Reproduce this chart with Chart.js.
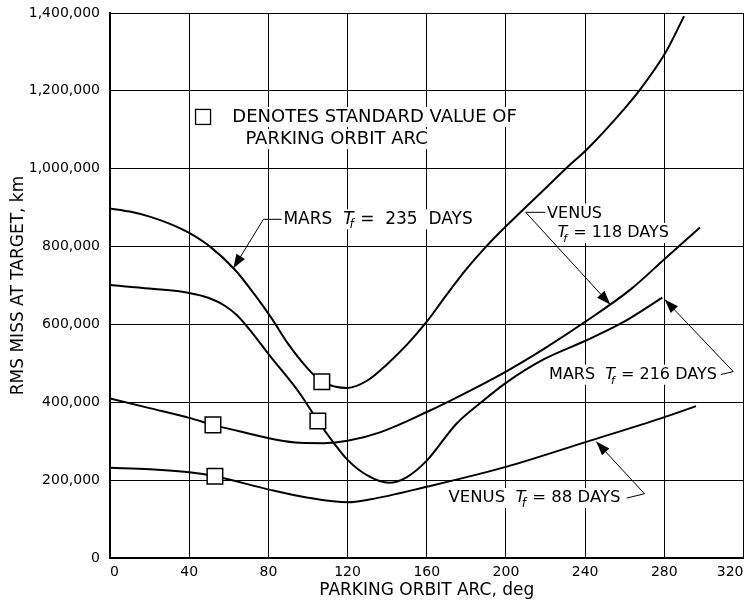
<!DOCTYPE html>
<html>
<head>
<meta charset="utf-8">
<script src="https://cdn.jsdelivr.net/npm/chart.js@4.4.0/dist/chart.umd.min.js"></script>
<style>
  html, body { margin: 0; padding: 0; background: #fff; overflow: hidden; }
</style>
</head>
<body>
<!-- a little wider than the window: the x-axis keeps half of its last label as right padding -->
<canvas id="missChart" width="756" height="605"></canvas>
<script>
    // tick values
    const arcTicks = [0, 40, 80, 120, 160, 200, 240, 280, 320];
    const missTicks = [0, 200000, 400000, 600000, 800000, 1000000, 1200000, 1400000];

    // Mars, Tf = 235 days
    const arcMars235 = [0, 10, 20, 30, 40, 51, 63, 73, 82, 90, 100, 107, 114, 120, 130, 140, 150, 160, 170, 180, 190, 200, 220, 231, 241, 260, 268, 281, 290];
    const missMars235 = [898000, 890000, 877000, 859000, 835000, 798000, 741000, 677000, 613000, 550000, 486000, 453000, 440000, 437000, 456000, 498000, 548000, 607000, 676000, 742000, 800000, 852000, 950000, 1004000, 1050000, 1155000, 1205000, 1302000, 1392000];

    // Mars, Tf = 216 days
    const arcMars216 = [0, 20, 40, 50, 58, 64, 70, 81, 96, 105, 113, 120, 130, 141, 150, 160, 175, 188, 200, 219, 241, 259, 279];
    const missMars216 = [701000, 692000, 681000, 668000, 648000, 624000, 590000, 518000, 422000, 352000, 296000, 252000, 212000, 193000, 208000, 250000, 345000, 402000, 450000, 510000, 560000, 605000, 669000];

    // Venus, Tf = 118 days
    const arcVenus118 = [0, 20, 40, 52, 70, 84, 96, 108, 120, 136, 160, 180, 200, 220, 241, 263, 281, 298];
    const missVenus118 = [410000, 385000, 360000, 342000, 320000, 304000, 296000, 295000, 301000, 322000, 375000, 425000, 479000, 540000, 610000, 690000, 772000, 849000];

    // Venus, Tf = 88 days
    const arcVenus88 = [0, 20, 40, 53, 81, 100, 120, 131, 160, 200, 241, 279, 296];
    const missVenus88 = [232000, 228000, 220000, 210000, 175000, 155000, 143000, 150000, 183000, 234000, 299000, 360000, 390000];

    // standard parking orbit arc values (squares)
    const stdArc = [107, 105, 52, 53];
    const stdMiss = [453000, 352000, 342000, 210000];

    const FONT = '"DejaVu Sans", sans-serif';

    function pts(xs, ys) {
        return xs.map((x, i) => ({ x: x, y: ys[i] }));
    }

    // labels drawn on the plot, placed in data units
    const notes = [
        { at: [61.8, 1133000], size: 18, parts: [['DENOTES STANDARD VALUE OF']] },
        { at: [68.4, 1076000], size: 18, parts: [['PARKING ORBIT ARC']] },
        { at: [87.6, 870000], size: 17, parts: [['MARS  '], ['T', 'it'], ['f', 'sub'], [' =  235  DAYS']] },
        { at: [220.8, 885000], size: 16, parts: [['VENUS']] },
        { at: [226, 835000], size: 16, parts: [['T', 'it'], ['f', 'sub'], [' = 118 DAYS']] },
        { at: [221.8, 471000], size: 16, parts: [['MARS  '], ['T', 'it'], ['f', 'sub'], [' = 216 DAYS']] },
        { at: [171, 154000], size: 16.5, parts: [['VENUS  '], ['T', 'it'], ['f', 'sub'], [' = 88 DAYS']] }
    ];

    const leaders = [
        [[86.7, 870000], [77.5, 870000], [62.3, 744000]],
        [[219.8, 888000], [210, 888000], [252.7, 651000]],
        [[308.5, 471000], [314.8, 479000], [280.2, 664000]],
        [[261, 154000], [270, 165000], [245.6, 299000]]
    ];

    const legendSquare = [47, 1133000];

    function partFont(kind, size) {
        if (kind === 'it') return 'italic ' + size + 'px ' + FONT;
        if (kind === 'sub') return 'italic ' + Math.round(size * 0.7) + 'px ' + FONT;
        return size + 'px ' + FONT;
    }

    const notesPlugin = {
        id: 'notes',
        beforeDatasetsDraw(chart) {
            const ctx = chart.ctx;
            const xs = chart.scales.x, ys = chart.scales.y;
            ctx.save();
            ctx.textBaseline = 'middle';

            notes.forEach(n => {
                let x = xs.getPixelForValue(n.at[0]);
                const y = ys.getPixelForValue(n.at[1]);
                let w = 0;
                n.parts.forEach(p => {
                    ctx.font = partFont(p[1], n.size);
                    w += p[1] === 'sub' ? ctx.measureText(p[0]).width - 3 : ctx.measureText(p[0]).width;
                });
                ctx.fillStyle = '#fff';
                ctx.fillRect(x - 4, y - 10, w + 8, 20);
                ctx.fillStyle = '#000';
                n.parts.forEach(p => {
                    ctx.font = partFont(p[1], n.size);
                    if (p[1] === 'sub') {
                        ctx.fillText(p[0], x - 4, y + 6);
                        x += ctx.measureText(p[0]).width - 3;
                    } else {
                        ctx.fillText(p[0], x, y);
                        x += ctx.measureText(p[0]).width;
                    }
                });
            });

            // legend square
            const sx = xs.getPixelForValue(legendSquare[0]);
            const sy = ys.getPixelForValue(legendSquare[1]);
            ctx.fillStyle = '#fff';
            ctx.fillRect(sx - 10, sy - 10, 20, 20);
            ctx.strokeStyle = '#000';
            ctx.lineWidth = 1.3;
            ctx.strokeRect(sx - 7.5, sy - 7.5, 15, 15);

            // leader lines with arrow heads
            leaders.forEach(l => {
                const p = l.map(q => [xs.getPixelForValue(q[0]), ys.getPixelForValue(q[1])]);
                ctx.beginPath();
                ctx.moveTo(p[0][0], p[0][1]);
                for (let i = 1; i < p.length; i++) ctx.lineTo(p[i][0], p[i][1]);
                ctx.lineWidth = 1;
                ctx.strokeStyle = '#000';
                ctx.stroke();
                const a = p[p.length - 2], b = p[p.length - 1];
                const ang = Math.atan2(b[1] - a[1], b[0] - a[0]);
                const len = 14, half = 5;
                ctx.beginPath();
                ctx.moveTo(b[0], b[1]);
                ctx.lineTo(b[0] - len * Math.cos(ang) + half * Math.sin(ang), b[1] - len * Math.sin(ang) - half * Math.cos(ang));
                ctx.lineTo(b[0] - len * Math.cos(ang) - half * Math.sin(ang), b[1] - len * Math.sin(ang) + half * Math.cos(ang));
                ctx.closePath();
                ctx.fillStyle = '#000';
                ctx.fill();
            });
            ctx.restore();
        }
    };

    function curve(xs, ys) {
        return {
            data: pts(xs, ys),
            borderColor: '#000',
            borderWidth: 2,
            pointRadius: 0,
            fill: false,
            cubicInterpolationMode: 'monotone',
            order: 1
        };
    }

    new Chart(document.getElementById('missChart'), {
        type: 'line',
        data: {
            datasets: [
                {
                    data: pts(stdArc, stdMiss),
                    showLine: false,
                    pointStyle: 'rect',
                    pointRadius: 11,
                    pointBackgroundColor: '#fff',
                    pointBorderColor: '#000',
                    pointBorderWidth: 1.5,
                    order: 0
                },
                curve(arcMars235, missMars235),
                curve(arcMars216, missMars216),
                curve(arcVenus118, missVenus118),
                curve(arcVenus88, missVenus88)
            ]
        },
        options: {
            responsive: false,
            animation: false,
            layout: { padding: { top: 13, right: 5, left: 0, bottom: 0 } },
            plugins: { legend: { display: false }, tooltip: { enabled: false } },
            scales: {
                x: {
                    type: 'linear',
                    min: 0,
                    max: 320,
                    afterBuildTicks: s => { s.ticks = arcTicks.map(v => ({ value: v })); },
                    afterFit: s => { s.height = 47; },
                    ticks: { color: '#000', font: { family: FONT, size: 14 }, padding: 1, align: 'inner', maxRotation: 0, autoSkip: false },
                    grid: { color: '#000', lineWidth: 1, drawTicks: true, tickLength: 5, tickColor: 'rgba(0,0,0,0)' },
                    border: { color: '#000', width: 2 },
                    title: { display: true, text: 'PARKING ORBIT ARC, deg', color: '#000', font: { family: FONT, size: 17 }, padding: { top: 0, bottom: 4 } }
                },
                y: {
                    min: 0,
                    max: 1400000,
                    afterBuildTicks: s => { s.ticks = missTicks.map(v => ({ value: v })); },
                    afterFit: s => { s.width = 110; },
                    ticks: {
                        color: '#000', font: { family: FONT, size: 14 }, padding: 2, autoSkip: false,
                        callback: v => v.toLocaleString('en-US')
                    },
                    grid: { color: '#000', lineWidth: 1, drawTicks: true, tickLength: 8, tickColor: 'rgba(0,0,0,0)' },
                    border: { color: '#000', width: 2 },
                    title: { display: true, text: 'RMS MISS AT TARGET, km', color: '#000', font: { family: FONT, size: 17 }, padding: { top: 8, bottom: 0 } }
                }
            }
        },
        plugins: [notesPlugin]
    });
</script>
</body>
</html>
